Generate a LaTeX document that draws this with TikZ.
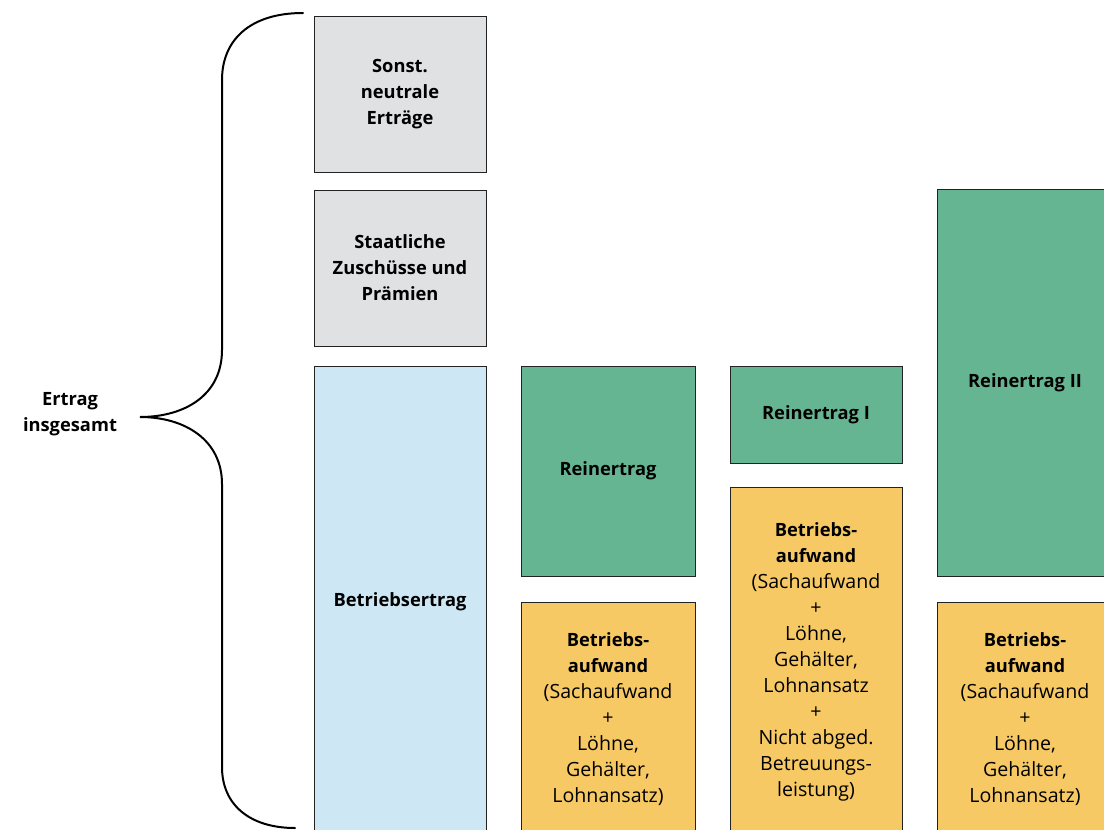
\documentclass[tikz,border=0pt]{standalone}
\usepackage{fontspec}
\setmainfont{Open Sans}
\definecolor{boxgray}{HTML}{E0E1E3}
\definecolor{boxblue}{HTML}{CDE8F4}
\definecolor{boxgreen}{HTML}{66B592}
\definecolor{boxorange}{HTML}{F6C965}
\definecolor{edge}{HTML}{222222}
\newcommand{\bt}[1]{{\fontsize{18.3}{26}\selectfont\bfseries #1}}
\tikzset{
  cell/.style={draw=edge, line width=1pt, inner sep=0pt, align=center,
    font=\fontsize{19.6}{26}\selectfont},
  gray/.style={cell, fill=boxgray},
  blue/.style={cell, fill=boxblue},
  green/.style={cell, fill=boxgreen},
  orange/.style={cell, fill=boxorange},
  bracepath/.style={line width=2pt, line cap=round},
}
\begin{document}
\begin{tikzpicture}[x=1pt,y=-1pt]
\useasboundingbox (0,0) rectangle (1104,830);
\begin{scope}
\clip (0,0) rectangle (1104,830);
\node[gray, minimum width=172pt, minimum height=156pt] (g1) at (400,94) {\bt{Sonst.}\\\bt{neutrale}\\\bt{Erträge}};
\node[gray, minimum width=172pt, minimum height=156pt] (g2) at (400,268) {\bt{Staatliche}\\\bt{Zuschüsse und}\\\bt{Prämien}};
\node[blue, minimum width=172pt, minimum height=472pt] (be) at (400,602) {\bt{Betriebsertrag}};
\node[green, minimum width=174pt, minimum height=210pt] (r0) at (608,471) {\bt{Reinertrag}};
\node[orange, minimum width=174pt, minimum height=234pt] (a1) at (608,719) {\bt{Betriebs-}\\\bt{aufwand}\\(Sachaufwand\\+\\Löhne,\\Gehälter,\\Lohnansatz)};
\node[green, minimum width=172pt, minimum height=97pt] (r1) at (816,414.5) {\bt{Reinertrag I}};
\node[orange, minimum width=172pt, minimum height=350pt] (a2) at (816,662) {\bt{Betriebs-}\\\bt{aufwand}\\(Sachaufwand\\+\\Löhne,\\Gehälter,\\Lohnansatz\\+\\Nicht abged.\\Betreuungs-\\leistung)};
\node[green, minimum width=176pt, minimum height=387pt] (r2) at (1025,382.5) {\bt{Reinertrag II}};
\node[orange, minimum width=176pt, minimum height=234pt] (a3) at (1025,719) {\bt{Betriebs-}\\\bt{aufwand}\\(Sachaufwand\\+\\Löhne,\\Gehälter,\\Lohnansatz)};
\end{scope}
\node[align=center, font=\fontsize{18.3}{26}\selectfont\bfseries] (total) at (70,414) {Ertrag\\insgesamt};
\coordinate (btop) at (303,13);
\coordinate (btip) at (140,417);
\coordinate (bbot) at (295,828);
\draw[bracepath] (btop) .. controls (250,13) and (222,40) .. (222,80) -- (222,350)
  .. controls (222,395) and (185,417) .. (btip)
  .. controls (185,417) and (222,440) .. (222,484) -- (222,767)
  .. controls (222,805) and (250,828) .. (bbot);
\end{tikzpicture}
\end{document}
